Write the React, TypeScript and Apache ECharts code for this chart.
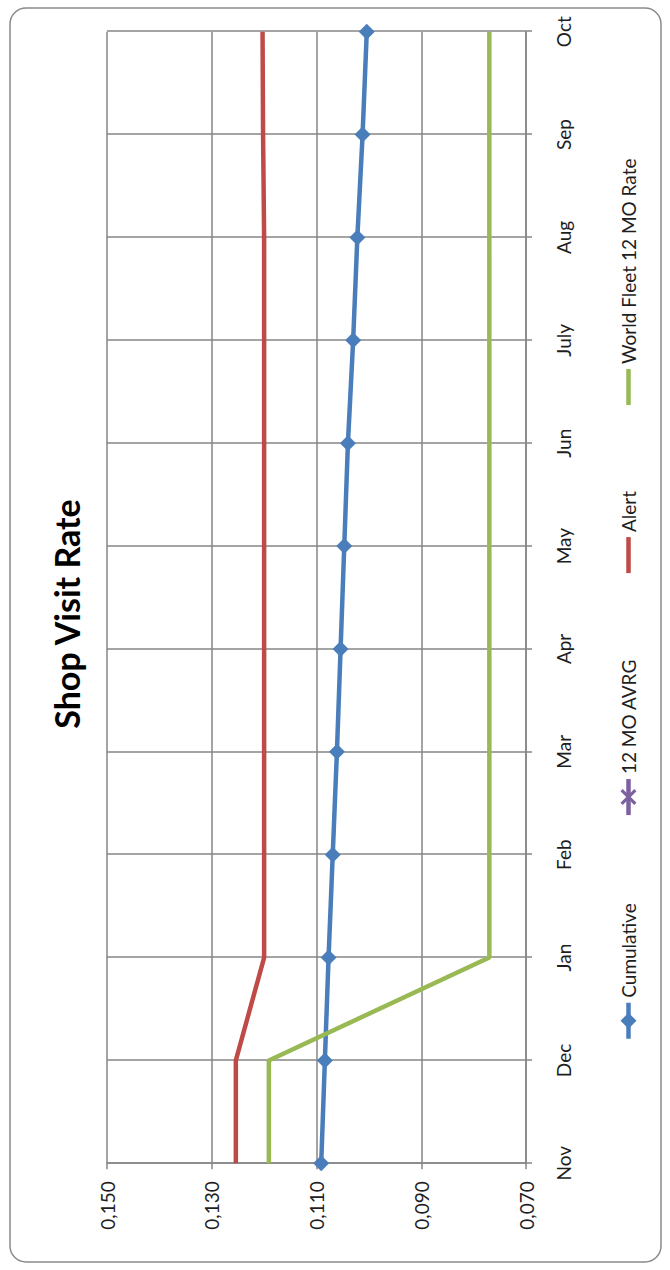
import React, { useEffect, useRef } from "react";
import * as echarts from "echarts";

// ---- data ----
const months = ["Nov", "Dec", "Jan", "Feb", "Mar", "Apr", "May", "Jun", "July", "Aug", "Sep", "Oct"];
const cumulative = [0.1091, 0.1084, 0.1077, 0.1069, 0.1061, 0.1054, 0.1047, 0.104, 0.103, 0.1022, 0.1012, 0.1004];
const avg12Mo: (number | null)[] = [];
const alertRate = [0.1254, 0.1254, 0.12, 0.12, 0.12, 0.12, 0.12, 0.12, 0.12, 0.12, 0.1202, 0.1203];
const worldFleet = [0.1191, 0.1191, 0.077, 0.077, 0.077, 0.077, 0.077, 0.077, 0.077, 0.077, 0.077, 0.077];
const seriesNames = ["Cumulative", "12 MO AVRG", "Alert", "World Fleet 12 MO Rate"];
const valueMin = 0.07;
const valueMax = 0.15;
const valueStep = 0.02;

const FONT = 'Lato, "Noto Sans", sans-serif';
const GRID = "#868686";
const TEXT = "#1e1e1e";
const LINE_W = 4.5;

const xMark =
  "path://M0,1.4 L1.4,0 L5,3.6 L8.6,0 L10,1.4 L6.4,5 L10,8.6 L8.6,10 L5,6.4 L1.4,10 L0,8.6 L3.6,5 Z";
const barIcon = "path://M0,0 L36,0 L36,4.5 L0,4.5 Z";

export default function App() {
  const ref = useRef<HTMLDivElement>(null);

  useEffect(() => {
    if (!ref.current) return;
    const chart = echarts.init(ref.current, undefined, { renderer: "svg" });
    const axisLineStyle = { color: GRID, width: 1.5 };
    chart.setOption({
      animation: false,
      backgroundColor: "#ffffff",
      title: {
        text: "Shop Visit Rate",
        left: 651,
        top: 44,
        textAlign: "center",
        textStyle: { fontFamily: FONT, fontSize: 34, fontWeight: "bold", color: "#000" },
      },
      graphic: [
        {
          type: "rect",
          shape: { x: 8, y: 10, width: 1254, height: 651, r: 16 },
          style: { fill: "none", stroke: "#8a8a8a", lineWidth: 1.5 },
          silent: true,
        },
      ],
      legend: {
        data: [
          { name: seriesNames[0] },
          { name: seriesNames[1] },
          { name: seriesNames[2], icon: barIcon },
          { name: seriesNames[3], icon: barIcon },
        ],
        left: 224,
        top: 614,
        itemWidth: 36,
        itemHeight: 20,
        itemGap: 86,
        lineStyle: { width: LINE_W },
        textStyle: { fontFamily: FONT, fontSize: 19, color: TEXT },
      },
      grid: { left: 106.7, right: 31.7, top: 107, bottom: 144, outerBoundsMode: "none" },
      xAxis: {
        type: "category",
        data: months,
        boundaryGap: false,
        axisLine: { show: true, lineStyle: axisLineStyle },
        axisTick: { show: true, length: 6, lineStyle: axisLineStyle },
        axisLabel: { margin: 28, fontFamily: FONT, fontSize: 19, color: TEXT },
        splitLine: { show: true, lineStyle: axisLineStyle },
      },
      yAxis: {
        type: "value",
        min: valueMin,
        max: valueMax,
        interval: valueStep,
        axisLine: { show: true, lineStyle: axisLineStyle },
        axisTick: { show: true, length: 6, lineStyle: axisLineStyle },
        axisLabel: {
          margin: 18,
          fontFamily: FONT,
          fontSize: 19,
          color: TEXT,
          formatter: (v: number) => v.toFixed(3).replace(".", ","),
        },
        splitLine: { show: true, lineStyle: axisLineStyle },
      },
      series: [
        {
          name: seriesNames[0],
          type: "line",
          data: cumulative,
          symbol: "diamond",
          symbolSize: 16,
          lineStyle: { width: LINE_W, color: "#4A7EBB" },
          itemStyle: { color: "#4A7EBB" },
        },
        {
          name: seriesNames[1],
          type: "line",
          data: avg12Mo,
          symbol: xMark,
          symbolSize: 14,
          lineStyle: { width: LINE_W, color: "#7D60A0" },
          itemStyle: { color: "#7D60A0" },
        },
        {
          name: seriesNames[2],
          type: "line",
          data: alertRate,
          symbol: "none",
          lineStyle: { width: LINE_W, color: "#BE4B48" },
          itemStyle: { color: "#BE4B48" },
        },
        {
          name: seriesNames[3],
          type: "line",
          data: worldFleet,
          symbol: "none",
          lineStyle: { width: LINE_W, color: "#98B954" },
          itemStyle: { color: "#98B954" },
        },
      ],
    });
    return () => chart.dispose();
  }, []);

  return (
    <div
      style={{
        position: "fixed",
        left: 0,
        top: 0,
        width: 670,
        height: 1270,
        overflow: "hidden",
        background: "#fff",
      }}
    >
      <div
        ref={ref}
        style={{
          position: "absolute",
          left: 0,
          top: 0,
          width: 1270,
          height: 670,
          transformOrigin: "0 0",
          transform: "translate(0px, 1270px) rotate(-90deg)",
        }}
      />
    </div>
  );
}
